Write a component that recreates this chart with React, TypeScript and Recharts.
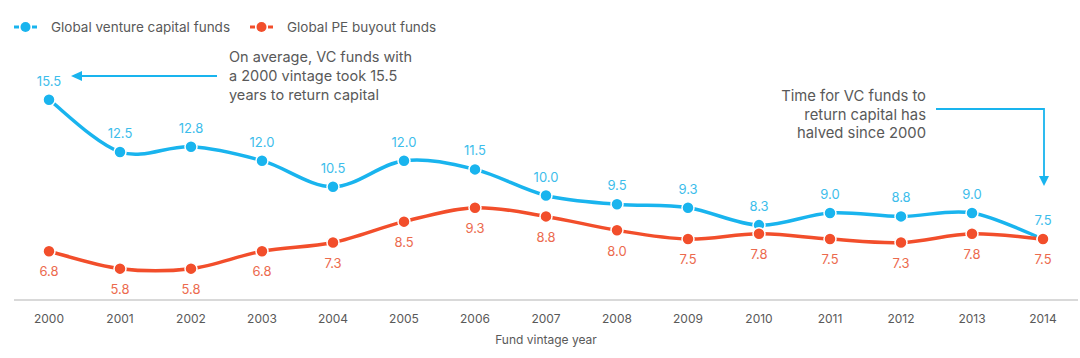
import React from "react";
import { LineChart, Line, XAxis, YAxis, LabelList } from "recharts";

const years = ["2000","2001","2002","2003","2004","2005","2006","2007","2008","2009","2010","2011","2012","2013","2014"];
const vcFunds = [15.5, 12.5, 12.8, 12.0, 10.5, 12.0, 11.5, 10.0, 9.5, 9.3, 8.3, 9.0, 8.8, 9.0, 7.5];
const peFunds = [6.8, 5.8, 5.8, 6.8, 7.3, 8.5, 9.3, 8.8, 8.0, 7.5, 7.8, 7.5, 7.3, 7.8, 7.5];
const seriesNames = ["Global venture capital funds", "Global PE buyout funds"];

const data = years.map((y, i) => ({ year: y, vc: vcFunds[i], pe: peFunds[i] }));

const VC = "#19B4EE";
const PE = "#F24E2B";
const VC_LABEL = "#3DBDEB";
const PE_LABEL = "#EC6A4E";
const TEXT = "#595959";
const FONT = "Inter, 'Open Sans', sans-serif";

// Catmull-Rom style smoothing (like spreadsheet smoothed lines)
function smoothCurve(context: any) {
  let pts: number[][] = [];
  return {
    areaStart() {},
    areaEnd() {},
    lineStart() { pts = []; },
    point(x: number, y: number) { pts.push([+x, +y]); },
    lineEnd() {
      const n = pts.length;
      if (!n) return;
      context.moveTo(pts[0][0], pts[0][1]);
      for (let i = 0; i < n - 1; i++) {
        const p0 = pts[Math.max(i - 1, 0)];
        const p1 = pts[i];
        const p2 = pts[i + 1];
        const p3 = pts[Math.min(i + 2, n - 1)];
        const c1x = p1[0] + (p2[0] - p0[0]) / 6;
        const c1y = p1[1] + (p2[1] - p0[1]) / 6;
        const c2x = p2[0] - (p3[0] - p1[0]) / 6;
        const c2y = p2[1] - (p3[1] - p1[1]) / 6;
        context.bezierCurveTo(c1x, c1y, c2x, c2y, p2[0], p2[1]);
      }
    },
  };
}

const fmt = (v: any) => Number(v).toFixed(1);

function LegendIcon({ color }: { color: string }) {
  return (
    <svg width="25" height="12" style={{ display: "block" }}>
      <line x1="1" y1="6" x2="6" y2="6" stroke={color} strokeWidth="3" />
      <line x1="19" y1="6" x2="24" y2="6" stroke={color} strokeWidth="3" />
      <circle cx="12.5" cy="6" r="5" fill={color} />
    </svg>
  );
}

export default function App() {
  return (
    <div style={{ position: "absolute", left: 0, top: 0, width: 1080, height: 358, background: "#fff", fontFamily: FONT }}>
      <LineChart width={1080} height={358} data={data} margin={{ top: 91, right: 2, bottom: 28, left: 14 }}>
        <XAxis
          dataKey="year"
          padding={{ left: 35, right: 35 }}
          axisLine={{ stroke: "#D9D9D9", strokeWidth: 2 }}
          tickLine={false}
          tick={{ fill: TEXT, fontSize: 12, fontFamily: FONT }}
          tickMargin={8}
          height={30}
          interval={0}
        />
        <YAxis hide domain={[4, 16]} />
        <Line
          dataKey="vc"
          name={seriesNames[0]}
          type={smoothCurve as any}
          stroke={VC}
          strokeWidth={3.5}
          dot={{ r: 6, fill: VC, stroke: "#fff", strokeWidth: 1.5 }}
          isAnimationActive={false}
        >
          <LabelList dataKey="vc" position="top" offset={14} formatter={fmt} fill={VC_LABEL} fontSize={13} fontFamily={FONT} />
        </Line>
        <Line
          dataKey="pe"
          name={seriesNames[1]}
          type={smoothCurve as any}
          stroke={PE}
          strokeWidth={3.5}
          dot={{ r: 6, fill: PE, stroke: "#fff", strokeWidth: 1.5 }}
          isAnimationActive={false}
        >
          <LabelList dataKey="pe" position="bottom" offset={16} formatter={fmt} fill={PE_LABEL} fontSize={13} fontFamily={FONT} />
        </Line>
      </LineChart>

      {/* Legend */}
      <div style={{ position: "absolute", left: 13, top: 19, display: "flex", alignItems: "center", fontSize: 13.5, color: TEXT, whiteSpace: "nowrap" }}>
        <LegendIcon color={VC} />
        <span style={{ marginLeft: 13 }}>{seriesNames[0]}</span>
        <span style={{ width: 19 }} />
        <LegendIcon color={PE} />
        <span style={{ marginLeft: 13 }}>{seriesNames[1]}</span>
      </div>

      {/* Annotation text */}
      <div style={{ position: "absolute", left: 229, top: 47, fontSize: 14.5, lineHeight: "19px", color: TEXT }}>
        On average, VC funds with<br />a 2000 vintage took 15.5<br />years to return capital
      </div>
      <div style={{ position: "absolute", right: 1080 - 926, top: 87, fontSize: 14.8, lineHeight: "18.5px", color: TEXT, textAlign: "right", whiteSpace: "nowrap" }}>
        Time for VC funds to<br />return capital has<br />halved since 2000
      </div>

      {/* Annotation arrows */}
      <svg width={1080} height={358} style={{ position: "absolute", left: 0, top: 0, pointerEvents: "none" }}>
        <line x1={217} y1={76} x2={80} y2={76} stroke={VC} strokeWidth={1.8} />
        <polygon points="71,76 82,71 82,81" fill={VC} />
        <polyline points="936,109 1044,109 1044,177" fill="none" stroke={VC} strokeWidth={1.8} />
        <polygon points="1044,186 1039,176 1049,176" fill={VC} />
      </svg>

      <div style={{ position: "absolute", left: 0, width: 1092, top: 332, textAlign: "center", fontSize: 12, color: TEXT }}>
        Fund vintage year
      </div>
    </div>
  );
}
